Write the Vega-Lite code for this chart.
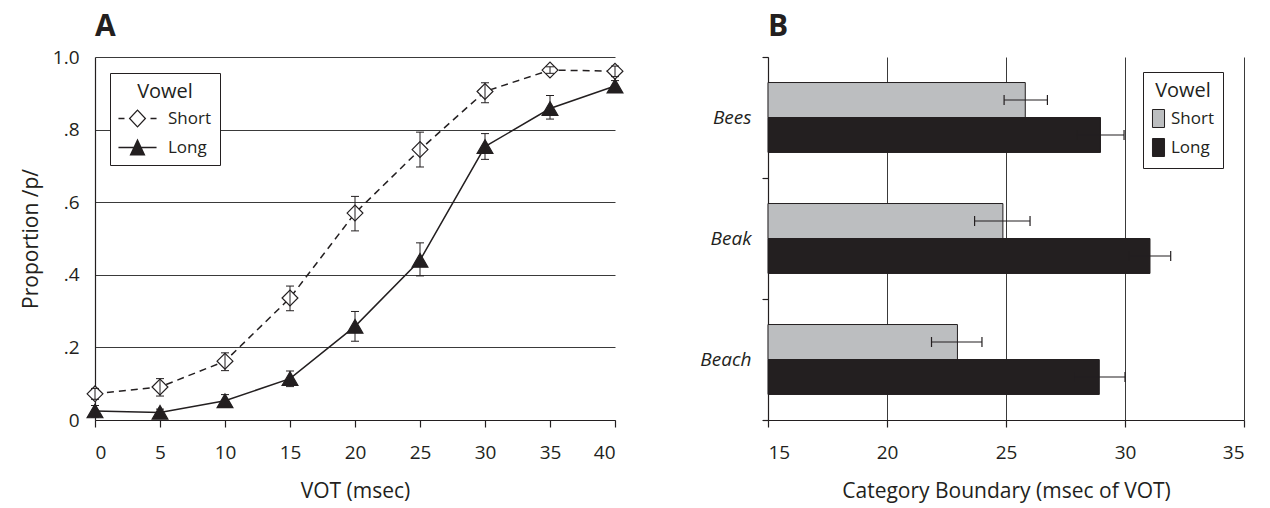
{
  "$schema": "https://vega.github.io/schema/vega-lite/v6.json",
  "padding": {"left": 20, "top": 12, "right": 5, "bottom": 5},
  "background": "white",
  "spacing": 66,
  "resolve": {
    "scale": {"fill": "independent", "shape": "independent"},
    "legend": {"fill": "independent", "shape": "independent"}
  },
  "config": {
    "font": "Open Sans",
    "view": {"stroke": null},
    "axis": {
      "labelFont": "Open Sans", "labelFontSize": 19, "labelColor": "#231f20",
      "titleFont": "Open Sans", "titleFontSize": 21, "titleFontWeight": "normal", "titleColor": "#231f20",
      "domainColor": "#231f20", "tickColor": "#231f20", "gridColor": "#3a3a3a", "gridOpacity": 1, "gridWidth": 1,
      "domainWidth": 1.2, "tickWidth": 1.2
    },
    "legend": {
      "titleFont": "Open Sans", "titleFontSize": 20, "titleFontWeight": "normal", "titleColor": "#231f20",
      "labelFont": "Open Sans", "labelFontSize": 17, "labelColor": "#231f20"
    },
    "title": {"font": "Open Sans", "fontSize": 30, "fontWeight": "bold", "color": "#231f20", "anchor": "start", "frame": "group", "offset": 6}
  },
  "datasets": {
    "ident": [
      {"vot": 0, "vowel": "Short", "p": 0.072, "lo": 0.057, "hi": 0.087},
      {"vot": 5, "vowel": "Short", "p": 0.091, "lo": 0.066, "hi": 0.114},
      {"vot": 10, "vowel": "Short", "p": 0.162, "lo": 0.136, "hi": 0.185},
      {"vot": 15, "vowel": "Short", "p": 0.336, "lo": 0.301, "hi": 0.369},
      {"vot": 20, "vowel": "Short", "p": 0.570, "lo": 0.521, "hi": 0.616},
      {"vot": 25, "vowel": "Short", "p": 0.745, "lo": 0.697, "hi": 0.793},
      {"vot": 30, "vowel": "Short", "p": 0.905, "lo": 0.874, "hi": 0.929},
      {"vot": 35, "vowel": "Short", "p": 0.964, "lo": 0.955, "hi": 0.973},
      {"vot": 40, "vowel": "Short", "p": 0.961, "lo": 0.946, "hi": 0.975},
      {"vot": 0, "vowel": "Long", "p": 0.025, "lo": 0.008, "hi": 0.040},
      {"vot": 5, "vowel": "Long", "p": 0.021, "lo": 0.012, "hi": 0.030},
      {"vot": 10, "vowel": "Long", "p": 0.053, "lo": 0.037, "hi": 0.070},
      {"vot": 15, "vowel": "Long", "p": 0.114, "lo": 0.092, "hi": 0.135},
      {"vot": 20, "vowel": "Long", "p": 0.258, "lo": 0.217, "hi": 0.299},
      {"vot": 25, "vowel": "Long", "p": 0.440, "lo": 0.397, "hi": 0.488},
      {"vot": 30, "vowel": "Long", "p": 0.753, "lo": 0.718, "hi": 0.789},
      {"vot": 35, "vowel": "Long", "p": 0.858, "lo": 0.829, "hi": 0.894},
      {"vot": 40, "vowel": "Long", "p": 0.920, "lo": 0.905, "hi": 0.935}
    ],
    "boundary": [
      {"word": "Bees", "vowel": "Short", "ms": 25.81, "lo": 24.92, "hi": 26.74},
      {"word": "Bees", "vowel": "Long", "ms": 28.97, "lo": 27.98, "hi": 29.96},
      {"word": "Beak", "vowel": "Short", "ms": 24.87, "lo": 23.68, "hi": 26.01},
      {"word": "Beak", "vowel": "Long", "ms": 31.05, "lo": 30.18, "hi": 31.92},
      {"word": "Beach", "vowel": "Short", "ms": 22.96, "lo": 21.87, "hi": 23.99},
      {"word": "Beach", "vowel": "Long", "ms": 28.92, "lo": 27.84, "hi": 30.0}
    ]
  },
  "hconcat": [
    {
      "title": {"text": "A"},
      "width": 520,
      "height": 363,
      "data": {"name": "ident"},
      "encoding": {
        "x": {"field": "vot", "type": "quantitative",
          "scale": {"domain": [0, 40], "nice": false, "zero": false},
          "axis": {"values": [0, 5, 10, 15, 20, 25, 30, 35, 40], "grid": false, "tickSize": 7, "labelPadding": 16, "titlePadding": 18, "title": "VOT (msec)"}},
        "y": {"field": "p", "type": "quantitative",
          "scale": {"domain": [0, 1], "nice": false},
          "axis": {"values": [0, 0.2, 0.4, 0.6, 0.8, 1], "grid": true, "ticks": false, "tickSize": 0, "labelPadding": 16, "titlePadding": 11, "title": "Proportion /p/",
            "labelExpr": "datum.value === 0 ? '0' : (datum.value === 1 ? '1.0' : replace(format(datum.value, '.1f'), '0.', '.'))"}}
      },
      "layer": [
        {
          "transform": [{"filter": "datum.vowel === 'Short'"}],
          "mark": {"type": "line", "color": "#231f20", "strokeWidth": 1.5, "strokeDash": [7, 5]},
          "encoding": {}
        },
        {
          "transform": [{"filter": "datum.vowel === 'Long'"}],
          "mark": {"type": "line", "color": "#231f20", "strokeWidth": 1.5},
          "encoding": {}
        },
        {
          "transform": [{"filter": "datum.vowel === 'Short'"}],
          "mark": {"type": "point", "shape": "diamond", "filled": true, "fill": "white", "opacity": 1, "size": 250, "stroke": "#231f20", "strokeWidth": 1.2},
          "encoding": {}
        },
        {
          "transform": [{"filter": "datum.vowel === 'Long'"}],
          "mark": {"type": "point", "shape": "triangle-up", "filled": true, "fill": "#231f20", "opacity": 1, "size": 250, "stroke": "#231f20", "strokeWidth": 1.2},
          "encoding": {}
        },
        {
          "mark": {"type": "point", "filled": true, "color": "#231f20", "opacity": 0, "size": 250},
          "encoding": {
            "shape": {"field": "vowel", "type": "nominal", "sort": ["Short", "Long"],
              "scale": {"domain": ["Short", "Long"], "range": [
                "M0,-1.08L1.03,0L0,1.08L-1.03,0ZM0,-0.87L-0.82,0L0,0.87L0.82,0ZM-2.24,-0.09H-1.53V0.09H-2.24ZM1.53,-0.09H2.24V0.09H1.53Z",
                "M-2.24,-0.09H2.24V0.09H-2.24ZM0,-1.05L0.94,0.95L-0.94,0.95Z"
              ]},
              "legend": {
                "orient": "none", "legendX": 15, "legendY": 16,
                "title": "Vowel", "titleAnchor": "middle", "titlePadding": 8,
                "padding": 9, "strokeColor": "#231f20", "fillColor": "white",
                "symbolSize": 289, "symbolOffset": 10, "labelOffset": 22, "rowPadding": 10,
                "symbolOpacity": 1, "symbolFillColor": "#231f20", "symbolStrokeWidth": 0
              }}
          }
        },
        {
          "mark": {"type": "rule", "color": "#231f20", "strokeWidth": 1},
          "encoding": {
            "y": {"field": "lo", "type": "quantitative"},
            "y2": {"field": "hi"},
            "detail": {"field": "vowel"}
          }
        },
        {
          "mark": {"type": "tick", "orient": "horizontal", "color": "#231f20", "size": 8, "thickness": 1, "opacity": 1},
          "encoding": {"y": {"field": "lo", "type": "quantitative"}}
        },
        {
          "mark": {"type": "tick", "orient": "horizontal", "color": "#231f20", "size": 8, "thickness": 1, "opacity": 1},
          "encoding": {"y": {"field": "hi", "type": "quantitative"}}
        }
      ]
    },
    {
      "title": {"text": "B"},
      "width": 476,
      "height": 363,
      "data": {"name": "boundary"},
      "encoding": {
        "y": {"field": "word", "type": "nominal", "sort": ["Bees", "Beak", "Beach"],
          "scale": {"paddingInner": 0, "paddingOuter": 0},
          "axis": {"title": null, "tickBand": "extent", "ticks": true, "tickSize": 6, "labelPadding": 11, "labelFontStyle": "italic", "grid": false, "domain": true}},
        "yOffset": {"field": "vowel", "type": "nominal", "sort": ["Short", "Long"],
          "scale": {"domain": ["Short", "Long"], "paddingInner": 0, "paddingOuter": 0.73}}
      },
      "layer": [
        {
          "mark": {"type": "bar", "stroke": "#231f20", "strokeWidth": 1},
          "encoding": {
            "x": {"field": "ms", "type": "quantitative",
              "scale": {"domain": [15, 35], "nice": false, "zero": false},
              "axis": {"values": [15, 20, 25, 30, 35], "grid": true, "tickSize": 7, "labelPadding": 16, "titlePadding": 18, "title": "Category Boundary (msec of VOT)"}},
            "x2": {"datum": 15},
            "fill": {"field": "vowel", "type": "nominal", "sort": ["Short", "Long"],
              "scale": {"domain": ["Short", "Long"], "range": ["#bcbec0", "#231f20"]},
              "legend": {
                "orient": "none", "legendX": 375, "legendY": 15,
                "title": "Vowel", "titleAnchor": "middle", "titlePadding": 8,
                "padding": 9, "strokeColor": "#231f20", "fillColor": "white",
                "symbolType": "M-0.67,-1H0.67V1H-0.67Z", "symbolSize": 324,
                "symbolStrokeColor": "#231f20", "symbolStrokeWidth": 1,
                "symbolOffset": -3, "labelOffset": 3, "rowPadding": 6
              }}
          }
        },
        {
          "mark": {"type": "rule", "color": "#231f20", "strokeWidth": 1.2},
          "encoding": {
            "x": {"field": "lo", "type": "quantitative"},
            "x2": {"field": "hi"}
          }
        },
        {
          "mark": {"type": "tick", "orient": "vertical", "color": "#231f20", "size": 10, "thickness": 1.2, "opacity": 1},
          "encoding": {"x": {"field": "lo", "type": "quantitative"}}
        },
        {
          "mark": {"type": "tick", "orient": "vertical", "color": "#231f20", "size": 10, "thickness": 1.2, "opacity": 1},
          "encoding": {"x": {"field": "hi", "type": "quantitative"}}
        }
      ]
    }
  ]
}
